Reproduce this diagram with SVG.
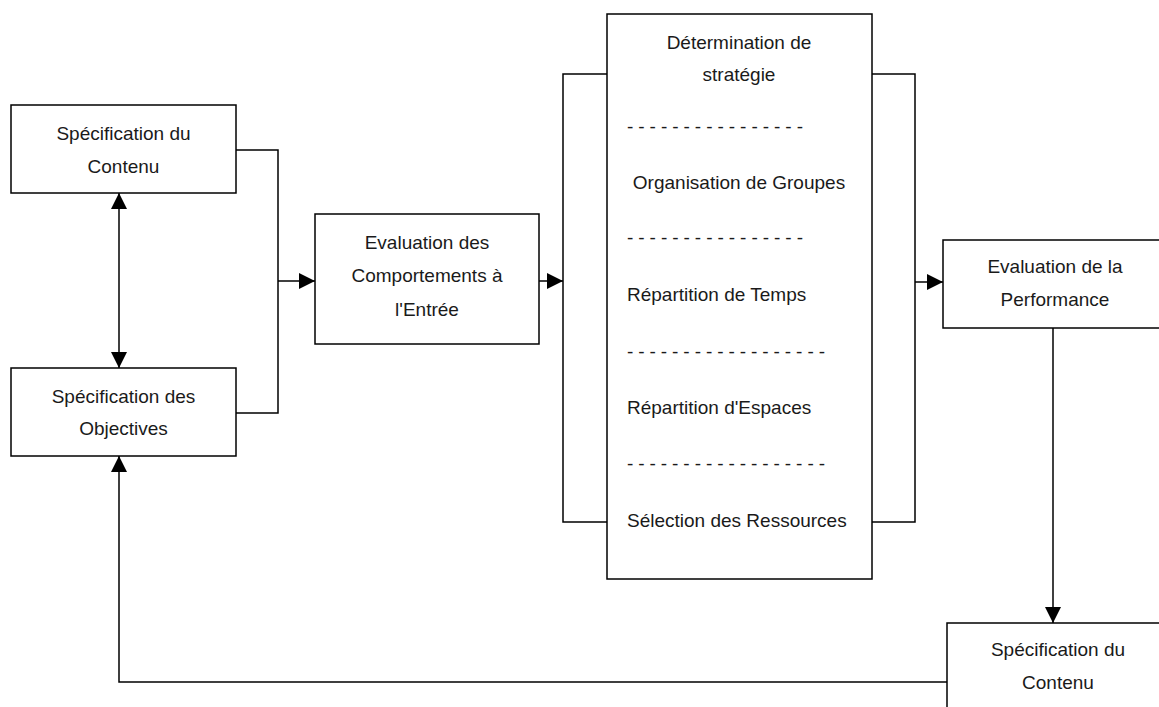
<svg xmlns="http://www.w3.org/2000/svg" width="1159" height="707" viewBox="0 0 1159 707">
<style>
.box{fill:#fff;stroke:#000;stroke-width:1.5}
.t{font-family:"Liberation Sans",Arial,sans-serif;font-size:19px;fill:#1a1a1a;text-anchor:middle}
.l{text-anchor:start}
.c{fill:none;stroke:#000;stroke-width:1.5}
</style>
<defs>
<marker id="ah" markerUnits="userSpaceOnUse" markerWidth="16" markerHeight="16" refX="16" refY="8" orient="auto-start-reverse" viewBox="0 0 16 16">
<path d="M0,0 L16,8 L0,16 z" fill="#000"/>
</marker>
</defs>
<g id="connectors">
<path class="c" d="M236,150 H278 V413 H236"/>
<path class="c" d="M278,281 H315" marker-end="url(#ah)"/>
<path class="c" d="M119,193 V368" marker-start="url(#ah)" marker-end="url(#ah)"/>
<path class="c" d="M539,281 H563" marker-end="url(#ah)"/>
<path class="c" d="M607,74 H563 V522 H607"/>
<path class="c" d="M872,74 H915 V522 H872"/>
<path class="c" d="M915,282 H943" marker-end="url(#ah)"/>
<path class="c" d="M1053,328 V623" marker-end="url(#ah)"/>
<path class="c" d="M947,682 H119 V456" marker-end="url(#ah)"/>
</g>
<g id="n1">
<rect class="box" x="11" y="105" width="225" height="88"/>
<text class="t" x="123.5" y="140">Spécification du</text>
<text class="t" x="123.5" y="173">Contenu</text>
</g>
<g id="n2">
<rect class="box" x="11" y="368" width="225" height="88"/>
<text class="t" x="123.5" y="403">Spécification des</text>
<text class="t" x="123.5" y="435">Objectives</text>
</g>
<g id="n3">
<rect class="box" x="315" y="214" width="224" height="130"/>
<text class="t" x="427" y="249">Evaluation des</text>
<text class="t" x="427" y="282">Comportements à</text>
<text class="t" x="427" y="316">l'Entrée</text>
</g>
<g id="n4">
<rect class="box" x="607" y="14" width="265" height="565"/>
<text class="t" x="739" y="49">Détermination de</text>
<text class="t" x="739" y="81">stratégie</text>
<text class="t l" x="627" y="133" textLength="176">- - - - - - - - - - - - - - - -</text>
<text class="t" x="739" y="189">Organisation de Groupes</text>
<text class="t l" x="627" y="244" textLength="176">- - - - - - - - - - - - - - - -</text>
<text class="t l" x="627" y="301">Répartition de Temps</text>
<text class="t l" x="627" y="358" textLength="198">- - - - - - - - - - - - - - - - - -</text>
<text class="t l" x="627" y="414">Répartition d'Espaces</text>
<text class="t l" x="627" y="470" textLength="198">- - - - - - - - - - - - - - - - - -</text>
<text class="t l" x="627" y="527">Sélection des Ressources</text>
</g>
<g id="n5">
<rect class="box" x="943" y="240" width="230" height="88"/>
<text class="t" x="1055" y="273">Evaluation de la</text>
<text class="t" x="1055" y="306">Performance</text>
</g>
<g id="n6">
<rect class="box" x="947" y="623" width="230" height="100"/>
<text class="t" x="1058" y="656">Spécification du</text>
<text class="t" x="1058" y="689">Contenu</text>
</g>
</svg>
